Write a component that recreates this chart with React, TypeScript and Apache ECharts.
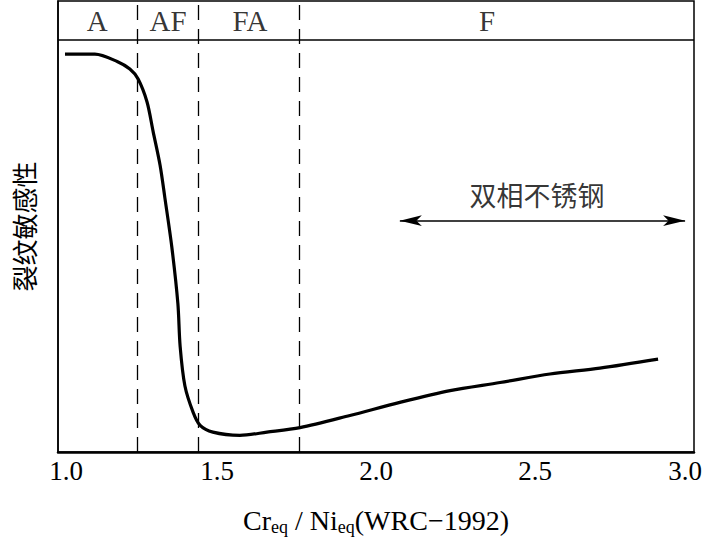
import React, { useEffect, useRef } from "react";
import * as echarts from "echarts";

// Curve: Cr_eq/Ni_eq vs crack sensitivity (relative, 0-100)
const curveX = [1.022, 1.116, 1.186, 1.226, 1.252, 1.28, 1.299, 1.321, 1.336, 1.358, 1.377, 1.384, 1.399, 1.425, 1.447, 1.487, 1.572, 1.657, 1.761, 1.918, 2.075, 2.233, 2.39, 2.547, 2.704, 2.887];
const curveY = [88.2, 88.2, 86.6, 84.9, 82.7, 77.6, 71.1, 63.6, 56.4, 45.4, 32.9, 23.5, 14.7, 8.8, 5.9, 4.4, 3.7, 4.4, 5.4, 8.1, 11.0, 13.6, 15.4, 17.3, 18.6, 20.6];

// Zone boundaries and header labels
const zoneBounds = [1.25, 1.44, 1.765];
const zoneLabels = ["A", "AF", "FA", "F"];
const zoneLabelX = [1.123, 1.346, 1.604, 2.349];
const headerLineY = 91.4;
const headerLabelY = 95.6;

// Duplex stainless steel annotation
const noteText = "双相不锈钢";
const notePos = [2.506, 57.2];
const arrowFrom = [2.075, 51.3];
const arrowTo = [2.972, 51.3];

const xMin = 1.0;
const xMax = 3.0;
const xInterval = 0.5;

const serif = "Liberation Serif";
const cjk = "Noto Sans CJK SC";

export default function App() {
  const ref = useRef<HTMLDivElement>(null);
  useEffect(() => {
    if (!ref.current) return;
    const chart = echarts.init(ref.current, undefined, { renderer: "svg" });
    const tick = { fontFamily: serif, fontSize: 27, color: "#000" };
    chart.setOption({
      animation: false,
      backgroundColor: "#fff",
      textStyle: { fontFamily: serif },
      grid: {
        left: 58,
        right: 15,
        top: 1,
        bottom: 84,
        show: true,
        borderColor: "#000",
        borderWidth: 1.5,
      },
      xAxis: {
        type: "value",
        min: xMin,
        max: xMax,
        interval: xInterval,
        axisLine: { show: true, lineStyle: { color: "#000", width: 2.5 } },
        axisTick: { show: false },
        splitLine: { show: false },
        axisLabel: {
          color: "#000",
          fontFamily: serif,
          fontSize: 27,
          margin: 5,
          formatter: (v: number) => {
            const t = v.toFixed(1);
            if (v === xMin) return "{l|" + t + "}";
            if (v === xMax) return "{r|" + t + "}";
            return "{c|" + t + "}";
          },
          rich: {
            c: { ...tick },
            l: { ...tick, padding: [0, 0, 0, 16] },
            r: { ...tick, padding: [0, 18, 0, 0] },
          },
        },
        name: "{m|Cr}{s|eq}{m| / Ni}{s|eq}{m|(WRC−1992)}",
        nameLocation: "middle",
        nameGap: 52,
        nameTextStyle: {
          fontFamily: serif,
          rich: {
            m: { fontFamily: serif, fontSize: 28, color: "#000", lineHeight: 32, verticalAlign: "middle" },
            s: { fontFamily: serif, fontSize: 18, color: "#000", lineHeight: 17, verticalAlign: "bottom" },
          },
        },
      },
      yAxis: {
        type: "value",
        min: 0,
        max: 100,
        axisLine: { show: true, lineStyle: { color: "#000", width: 1.5 } },
        axisTick: { show: false },
        axisLabel: { show: false },
        splitLine: { show: false },
        name: "裂纹敏感性",
        nameLocation: "middle",
        nameRotate: 90,
        nameGap: 22,
        nameTextStyle: { fontFamily: cjk, fontSize: 26, color: "#000" },
      },
      series: [
        {
          type: "line",
          data: curveX.map((x, i) => [x, curveY[i]]),
          smooth: 0.3,
          showSymbol: false,
          lineStyle: { color: "#000", width: 3.2 },
          z: 5,
          markLine: {
            silent: true,
            symbol: ["none", "none"],
            label: { show: false },
            data: [
              ...zoneBounds.map((b) => ({
                xAxis: b,
                lineStyle: { color: "#000", width: 1.3, type: [15, 9] },
              })),
              {
                yAxis: headerLineY,
                lineStyle: { color: "#000", width: 1.5, type: "solid" },
              },
            ],
          },
        },
        {
          type: "scatter",
          symbolSize: 0,
          silent: true,
          data: zoneLabels.map((l, i) => ({ value: [zoneLabelX[i], headerLabelY], name: l })),
          label: {
            show: true,
            position: "inside",
            formatter: (p: any) => p.name,
            fontFamily: serif,
            fontSize: 29,
            color: "#000",
          },
        },
        {
          type: "scatter",
          symbolSize: 0,
          silent: true,
          data: [{ value: notePos, name: noteText }],
          label: {
            show: true,
            position: "inside",
            formatter: (p: any) => p.name,
            fontFamily: cjk,
            fontSize: 27,
            color: "#000",
          },
          markLine: {
            silent: true,
            symbol: ["arrow", "arrow"],
            symbolSize: [8, 22],
            label: { show: false },
            lineStyle: { color: "#000", width: 1.5, type: "solid" },
            data: [[{ coord: arrowFrom }, { coord: arrowTo }]],
          },
        },
      ],
    });
    return () => chart.dispose();
  }, []);
  return (
    <div
      ref={ref}
      style={{ position: "fixed", left: 0, top: 0, width: 709, height: 541 }}
    />
  );
}
